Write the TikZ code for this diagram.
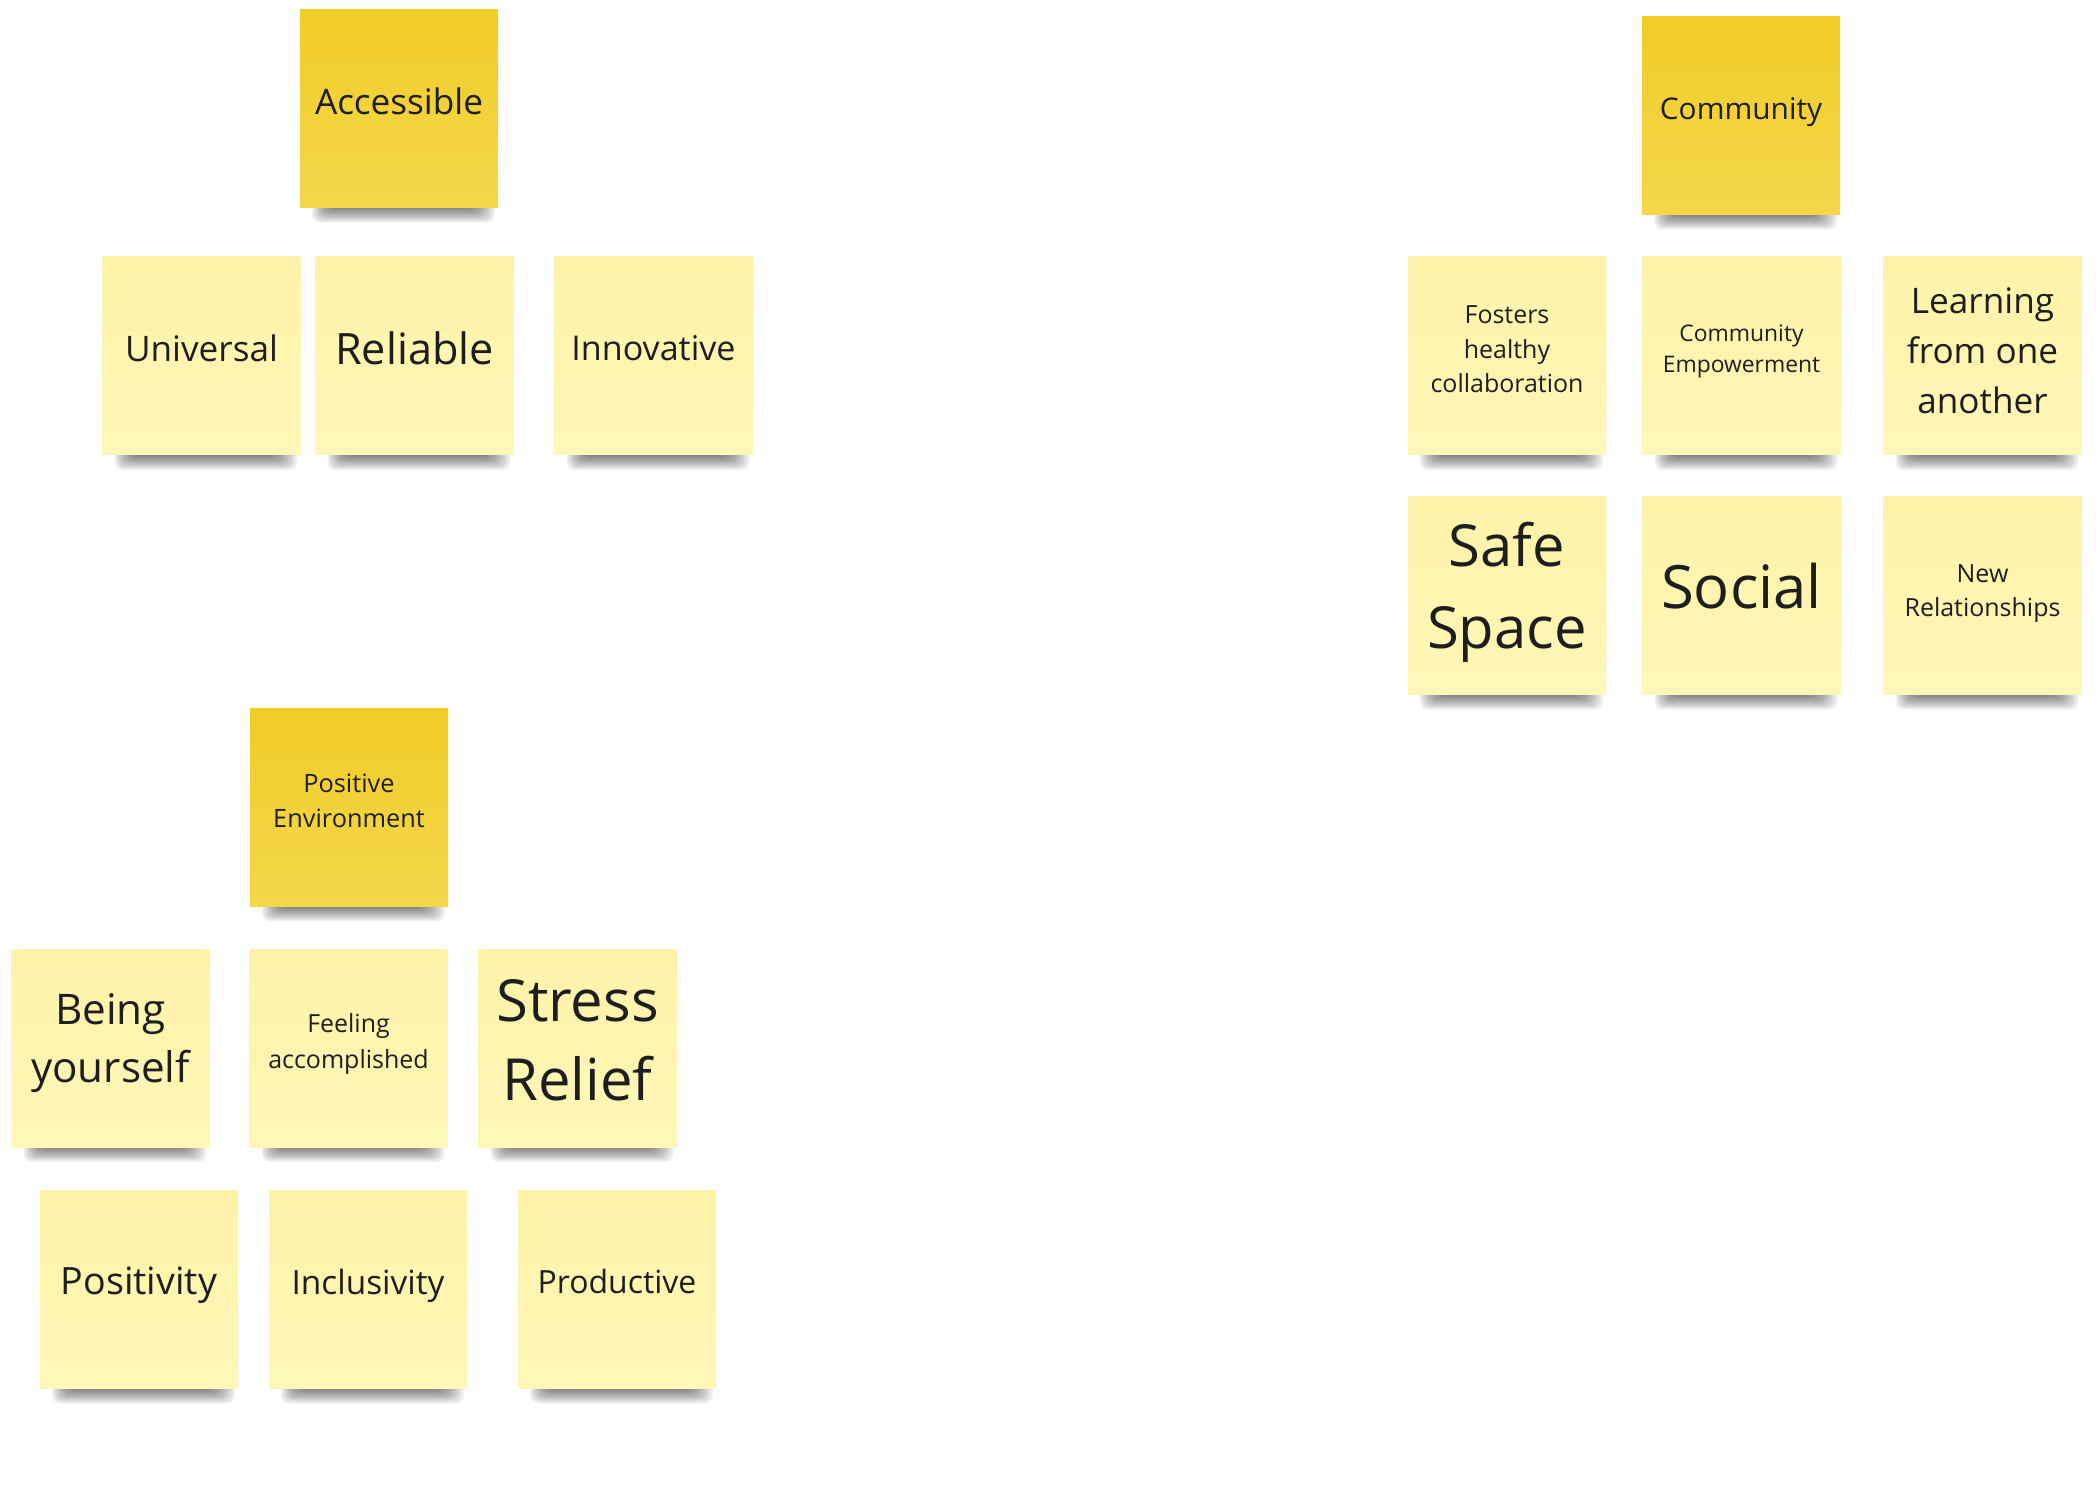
\documentclass[tikz,border=0pt]{standalone}
\usepackage{fontspec}
\setmainfont{Open Sans}

\definecolor{headtop}{HTML}{F1CD28}
\definecolor{headbot}{HTML}{F4D64A}
\definecolor{itemtop}{HTML}{FEF3A8}
\definecolor{itembot}{HTML}{FFF7B8}
\definecolor{ink}{HTML}{1E1E1E}

\tikzset{
  sticky/.style={
    minimum width=1.98cm, minimum height=1.98cm, inner sep=0pt, draw=none},
  headnote/.style={sticky, top color=headtop, bottom color=headbot},
  itemnote/.style={sticky, top color=itemtop, bottom color=itembot},
  shadowlayer/.style={fill=black, opacity=0.055, rounded corners=0.08cm},
  notetext/.style={align=center, text=ink, inner sep=0pt},
  fs/.style 2 args={font=\fontsize{#1}{#2}\selectfont}
}

% \stickynote{name}{kind}{position}{font size}{line skip}{text lift}{text}
\newcommand\stickynote[7]{%
  \begin{scope}[shift={(#3)}]
    % soft drop shadow under the lower edge, built from stacked translucent layers
    \foreach \k in {0,...,10} {
      \path[shadowlayer] (-0.87+0.017*\k,-0.70) rectangle (0.96-0.022*\k,-1.14+0.014*\k);
    }
  \end{scope}
  \node[#2] (#1) at (#3) {};
  \node[notetext, fs={#4}{#5}] (#1-text) at ([yshift=#6cm]#1.center) {#7};
}

\begin{document}
\begin{tikzpicture}[x=1cm,y=1cm]
  \useasboundingbox[fill=white] (0,0) rectangle (20.99,-14.99);

  % Accessible cluster
  \stickynote{acc}{headnote}{3.99,-1.085}{10}{14}{0.067}{Accessible}
  \stickynote{uni}{itemnote}{2.015,-3.56}{10}{14}{0.08}{Universal}
  \stickynote{rel}{itemnote}{4.145,-3.56}{12.3}{16}{0.08}{Reliable}
  \stickynote{inn}{itemnote}{6.535,-3.56}{9.7}{14}{0.08}{Innovative}

  % Community cluster
  \stickynote{com}{headnote}{17.41,-1.155}{8.5}{12}{0.03}{Community}
  \stickynote{fos}{itemnote}{15.07,-3.56}{7.1}{9.8}{0.067}{Fosters\\healthy\\collaboration}
  \stickynote{emp}{itemnote}{17.415,-3.56}{6.5}{8.8}{0.047}{Community\\Empowerment}
  \stickynote{lea}{itemnote}{19.825,-3.56}{10}{14.2}{0.054}{Learning\\from one\\another}
  \stickynote{saf}{itemnote}{15.07,-5.955}{16.5}{23.3}{0.03}{Safe\\Space}
  \stickynote{soc}{itemnote}{17.415,-5.955}{17}{24}{0.094}{Social}
  \stickynote{new}{itemnote}{19.825,-5.955}{7.1}{9.7}{0.02}{New\\Relationships}

  % Positive Environment cluster
  \stickynote{pos}{headnote}{3.49,-8.075}{7.2}{10}{0.067}{Positive\\Environment}
  \stickynote{bei}{itemnote}{1.105,-10.48}{12}{16.4}{0.047}{Being\\yourself}
  \stickynote{fee}{itemnote}{3.485,-10.48}{7.1}{10}{0.04}{Feeling\\accomplished}
  \stickynote{str}{itemnote}{5.775,-10.48}{16.5}{22.4}{0.074}{Stress\\Relief}
  \stickynote{pty}{itemnote}{1.39,-12.895}{10.7}{15}{0.04}{Positivity}
  \stickynote{inc}{itemnote}{3.68,-12.895}{9.5}{14}{0.04}{Inclusivity}
  \stickynote{pro}{itemnote}{6.17,-12.895}{9.1}{14}{0.08}{Productive}
\end{tikzpicture}
\end{document}
